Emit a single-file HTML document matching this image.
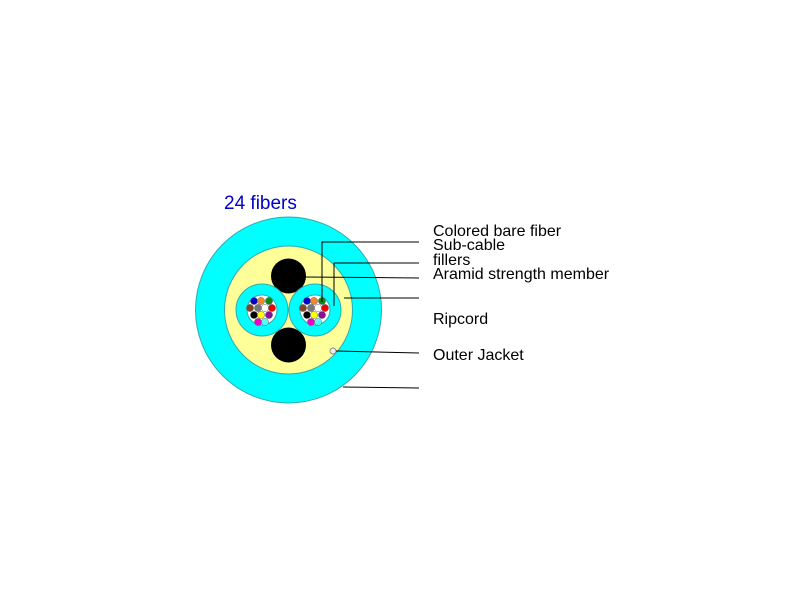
<!DOCTYPE html>
<html><head><meta charset="utf-8"><style>
html,body{margin:0;padding:0;background:#fff;width:800px;height:600px;overflow:hidden}
svg{display:block}
text{font-family:"Liberation Sans",Arial,sans-serif}
</style></head><body>
<svg width="800" height="600" viewBox="0 0 800 600" xmlns="http://www.w3.org/2000/svg">
<rect width="800" height="600" fill="#fff"/>
<text x="224" y="209" font-size="19" fill="#0000cc">24 fibers</text>
<circle cx="288.5" cy="310" r="93" fill="#00ffff" stroke="#3aa" stroke-width="1"/>
<circle cx="288.5" cy="310" r="64" fill="#ffff99" stroke="#3aa" stroke-width="1"/>
<circle cx="288.5" cy="276" r="17.5" fill="#000"/>
<circle cx="288.5" cy="345" r="17.5" fill="#000"/>
<circle cx="262" cy="310" r="26" fill="#00ffff" stroke="#3aa" stroke-width="1"/>
<circle cx="262" cy="310" r="15" fill="#fff" stroke="#3aa" stroke-width="1"/>
<circle cx="315" cy="310" r="26" fill="#00ffff" stroke="#3aa" stroke-width="1"/>
<circle cx="315" cy="310" r="15" fill="#fff" stroke="#3aa" stroke-width="1"/>
<g id="f1" stroke="#666" stroke-width="0.5">
<circle cx="254" cy="301" r="3.6" fill="#0000cc"/>
<circle cx="261" cy="301" r="3.6" fill="#ee8833"/>
<circle cx="269" cy="301" r="3.6" fill="#118811"/>
<circle cx="250" cy="308" r="3.6" fill="#884422"/>
<circle cx="258" cy="308" r="3.6" fill="#777"/>
<circle cx="265" cy="308" r="3.6" fill="#fff"/>
<circle cx="272" cy="308" r="3.6" fill="#ee0000"/>
<circle cx="254" cy="315" r="3.6" fill="#000"/>
<circle cx="261" cy="315" r="3.6" fill="#ffff00"/>
<circle cx="269" cy="315" r="3.6" fill="#881199"/>
<circle cx="258" cy="322" r="3.6" fill="#ee00cc"/>
<circle cx="265" cy="322" r="3.6" fill="#55ffff"/>
</g>
<use href="#f1" transform="translate(53,0)"/>
<circle cx="333" cy="351" r="3" fill="#eee" stroke="#888" stroke-width="1"/>
<g stroke="#000" stroke-width="1" fill="none">
<polyline points="322,302 322,242 419,242"/>
<polyline points="334,306 334,263 419,263"/>
<line x1="305" y1="277" x2="419" y2="278"/>
<line x1="344" y1="298" x2="419" y2="298"/>
<line x1="336" y1="351" x2="419" y2="353"/>
<line x1="343" y1="387" x2="419" y2="388"/>
</g>
<g font-size="16" fill="#000">
<text x="433" y="236">Colored bare fiber</text>
<text x="433" y="250">Sub-cable</text>
<text x="433" y="265">fillers</text>
<text x="433" y="279">Aramid strength member</text>
<text x="433" y="324">Ripcord</text>
<text x="433" y="360">Outer Jacket</text>
</g>
</svg>
</body></html>
